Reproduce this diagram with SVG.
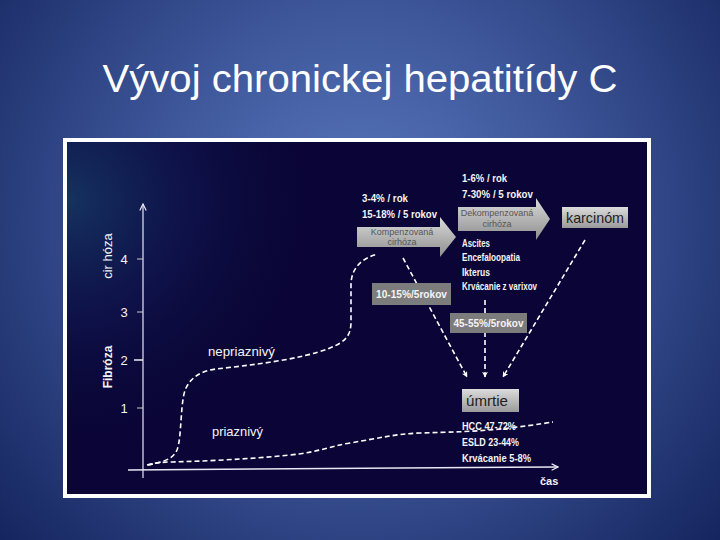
<svg xmlns="http://www.w3.org/2000/svg" width="720" height="540" viewBox="0 0 720 540">
<defs>
<radialGradient id="bg" cx="360" cy="220" r="480" gradientUnits="userSpaceOnUse">
<stop offset="0" stop-color="#5a78be"/>
<stop offset="0.45" stop-color="#3d5699"/>
<stop offset="1" stop-color="#15255f"/>
</radialGradient>
<radialGradient id="glow" cx="70" cy="200" r="260" gradientUnits="userSpaceOnUse">
<stop offset="0" stop-color="#173a66" stop-opacity="0.85"/>
<stop offset="0.45" stop-color="#111a55" stop-opacity="0.6"/>
<stop offset="1" stop-color="#0a0536" stop-opacity="0"/>
</radialGradient>
<linearGradient id="gbox" x1="0" y1="0" x2="0" y2="1">
<stop offset="0" stop-color="#dcdcdc"/>
<stop offset="1" stop-color="#9a9a9a"/>
</linearGradient>
<linearGradient id="garrow" x1="0" y1="0" x2="0" y2="1">
<stop offset="0" stop-color="#dadada"/>
<stop offset="1" stop-color="#8e8e8e"/>
</linearGradient>
<marker id="ah" viewBox="0 0 10 10" refX="9" refY="5" markerWidth="6" markerHeight="6" orient="auto" markerUnits="userSpaceOnUse">
<path d="M0,0 L10,5 L0,10 L3,5 Z" fill="#ffffff"/>
</marker>
<marker id="axh" viewBox="0 0 10 10" refX="9" refY="5" markerWidth="8" markerHeight="8" orient="auto" markerUnits="userSpaceOnUse">
<path d="M1,1 L9,5 L1,9" fill="none" stroke="#e8e8f4" stroke-width="1.5"/>
</marker>
</defs>
<style>
.title{font-family:"Liberation Sans","Open Sans",sans-serif;font-size:38px;fill:#ffffff}
.w{font-family:"Liberation Sans","Open Sans",sans-serif;fill:#f4f4f4}
.b{font-weight:bold}
.dark{font-family:"Liberation Sans","Open Sans",sans-serif;fill:#1e1e1e}
.arr{font-family:"Liberation Sans","Open Sans",sans-serif;font-size:9px;fill:#555555}
.dash{fill:none;stroke:#ffffff;stroke-width:1.6;stroke-dasharray:5 3}
.gbox{fill:#7c7c7c}
</style>
<rect x="0" y="0" width="720" height="540" fill="url(#bg)"/>
<text class="title" x="360" y="92" text-anchor="middle" textLength="515" lengthAdjust="spacingAndGlyphs">Vývoj chronickej hepatitídy C</text>

<g id="panel">
<rect x="63" y="138" width="588" height="360" fill="#ffffff"/>
<rect x="67" y="142" width="580" height="352" fill="#0a0536"/>
<rect x="67" y="142" width="580" height="352" fill="url(#glow)"/>
</g>

<g id="axes">
<line x1="143" y1="478" x2="143" y2="204" stroke="#e8e8f4" stroke-width="1.2" marker-end="url(#axh)"/>
<line x1="128" y1="470" x2="558" y2="467" stroke="#e8e8f4" stroke-width="1.5" marker-end="url(#axh)"/>
<line x1="137" y1="259" x2="143" y2="259" stroke="#cccccc" stroke-width="1"/>
<line x1="137" y1="312" x2="143" y2="312" stroke="#cccccc" stroke-width="1"/>
<line x1="134" y1="360" x2="143" y2="360" stroke="#eeeeee" stroke-width="1.5"/>
<line x1="137" y1="408" x2="143" y2="408" stroke="#cccccc" stroke-width="1"/>
<text class="w" x="124" y="264" font-size="13" text-anchor="middle">4</text>
<text class="w" x="124" y="317" font-size="13" text-anchor="middle">3</text>
<text class="w" x="124" y="365" font-size="13" text-anchor="middle">2</text>
<text class="w" x="124" y="413" font-size="13" text-anchor="middle">1</text>
<text class="w" transform="translate(112,256) rotate(-90)" font-size="13" text-anchor="middle">cir hóza</text>
<text class="w b" transform="translate(112,367) rotate(-90)" font-size="12" text-anchor="middle">Fibróza</text>
<text class="w b" x="540" y="485" font-size="11">čas</text>
</g>

<g id="curves">
<path class="dash" stroke-width="2" d="M148,465 C160,462 172,461 177,450 C182,438 180,400 186,388 C192,376 202,371 216,369 C250,365 300,360 330,348 C345,342 351,336 351,322 L351,285 C351,268 362,258 378,254" stroke-dasharray="6 3"/>
<path class="dash" stroke-width="1.4" stroke-dasharray="4 2" d="M147,465 C155,463 162,462 172,462 C210,461 250,459 290,455 C320,452 330,446 350,443 C380,438 395,434 420,433 C450,432 470,432 500,429 C520,427 540,424 553,422"/>
<text class="w" x="208" y="356" font-size="13" textLength="67" lengthAdjust="spacingAndGlyphs">nepriaznivý</text>
<text class="w" x="212" y="436" font-size="13" textLength="51" lengthAdjust="spacingAndGlyphs">priaznivý</text>
</g>

<g id="connectors">
<path class="dash" d="M403,258 L467,377" marker-end="url(#ah)"/>
<path class="dash" d="M485,300 L485,377" marker-end="url(#ah)"/>
<path class="dash" d="M585,240 L503,377" marker-end="url(#ah)"/>
</g>

<g id="kompenzovana">
<polygon points="357,227 440,227 440,217 456,237 440,257 440,247 357,247" fill="url(#garrow)"/>
<text class="arr" x="402" y="235" text-anchor="middle">Kompenzovaná</text>
<text class="arr" x="402" y="245" text-anchor="middle">cirhóza</text>
<text class="w b" x="362" y="202" font-size="11" textLength="46" lengthAdjust="spacingAndGlyphs">3-4% / rok</text>
<text class="w b" x="362" y="218" font-size="11" textLength="75" lengthAdjust="spacingAndGlyphs">15-18% / 5 rokov</text>
</g>

<g id="dekompenzovana">
<polygon points="458,207 536,207 536,198 550,219 536,240 536,231 458,231" fill="url(#garrow)"/>
<text class="arr" x="497" y="216" text-anchor="middle">Dekompenzovaná</text>
<text class="arr" x="497" y="227" text-anchor="middle">cirhóza</text>
<text class="w b" x="462" y="182" font-size="11" textLength="45" lengthAdjust="spacingAndGlyphs">1-6% / rok</text>
<text class="w b" x="462" y="198" font-size="11" textLength="71" lengthAdjust="spacingAndGlyphs">7-30% / 5 rokov</text>
<text class="w b" x="462" y="247" font-size="10" textLength="28" lengthAdjust="spacingAndGlyphs">Ascites</text>
<text class="w b" x="462" y="261" font-size="10" textLength="58" lengthAdjust="spacingAndGlyphs">Encefaloopatia</text>
<text class="w b" x="462" y="276" font-size="10" textLength="28" lengthAdjust="spacingAndGlyphs">Ikterus</text>
<text class="w b" x="462" y="290" font-size="10" textLength="75" lengthAdjust="spacingAndGlyphs">Krvácanie z varixov</text>
</g>

<g id="karcinom">
<rect x="562" y="207" width="66" height="21" fill="url(#gbox)"/>
<text class="dark" x="595" y="223" font-size="15" text-anchor="middle" textLength="58" lengthAdjust="spacingAndGlyphs">karcinóm</text>
</g>

<g id="rate1">
<rect class="gbox" x="372" y="283" width="79" height="22"/>
<text class="w b" x="411.5" y="298" font-size="11" text-anchor="middle" textLength="71" lengthAdjust="spacingAndGlyphs">10-15%/5rokov</text>
</g>

<g id="rate2">
<rect class="gbox" x="450" y="313" width="77" height="20"/>
<text class="w b" x="488.5" y="327" font-size="11" text-anchor="middle" textLength="70" lengthAdjust="spacingAndGlyphs">45-55%/5rokov</text>
</g>

<g id="umrtie">
<rect x="462" y="389" width="57" height="23" fill="url(#gbox)"/>
<text class="dark" x="466" y="406" font-size="15" textLength="42" lengthAdjust="spacingAndGlyphs">úmrtie</text>
<text class="w b" x="462" y="430" font-size="11" textLength="54" lengthAdjust="spacingAndGlyphs">HCC 47-72%</text>
<text class="w b" x="462" y="446" font-size="11" textLength="57" lengthAdjust="spacingAndGlyphs">ESLD 23-44%</text>
<text class="w b" x="462" y="462" font-size="11" textLength="69" lengthAdjust="spacingAndGlyphs">Krvácanie 5-8%</text>
</g>
</svg>
